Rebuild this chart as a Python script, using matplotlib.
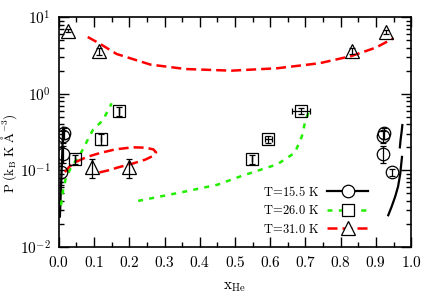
import numpy as np
import matplotlib
matplotlib.use("Agg")
import matplotlib.pyplot as plt
from matplotlib.ticker import MultipleLocator, LogLocator, NullFormatter, FixedLocator

plt.rcParams['mathtext.fontset'] = 'cm'
plt.rcParams['font.family'] = 'serif'
plt.rcParams['font.serif'] = ['DejaVu Serif']

# ---- simulation points (symbols) ----
x_155 = [0.006, 0.012, 0.013, 0.015, 0.92, 0.92, 0.922, 0.946]
p_155 = [0.095, 0.165, 0.28, 0.31, 0.165, 0.28, 0.31, 0.095]
e_155 = [0.03, 0.04, 0.05, 0.05, 0.04, 0.05, 0.05, 0.01]

x_260 = [0.045, 0.12, 0.17, 0.548, 0.594, 0.688]
p_260 = [0.14, 0.255, 0.6, 0.14, 0.255, 0.6]
e_260 = [0.02, 0.04, 0.08, 0.02, 0.03, 0.05]
xe_260 = [0.0, 0.0, 0.0, 0.0, 0.01, 0.025]

x_310 = [0.025, 0.094, 0.115, 0.2, 0.832, 0.93]
p_310 = [6.6, 0.11, 3.6, 0.11, 3.6, 6.4]
e_310 = [0.3, 0.03, 0.4, 0.03, 0.3, 0.3]

# ---- coexistence curves ----
lx_155a = [0.003, 0.005, 0.007, 0.009, 0.011, 0.012]
lp_155a = [0.025, 0.045, 0.08, 0.14, 0.25, 0.36]
lx_155b = [0.968, 0.970, 0.973, 0.975]
lp_155b = [0.2, 0.25, 0.32, 0.39]
lx_155c = [0.935, 0.945, 0.955, 0.963, 0.969, 0.974]
lp_155c = [0.026, 0.034, 0.046, 0.062, 0.09, 0.15]

lx_260a = [0.006, 0.012, 0.02, 0.035, 0.06, 0.097, 0.125, 0.15]
lp_260a = [0.035, 0.055, 0.08, 0.11, 0.16, 0.34, 0.45, 0.75]
lx_260b = [0.225, 0.35, 0.45, 0.52, 0.62, 0.67, 0.69, 0.70, 0.715]
lp_260b = [0.04, 0.052, 0.065, 0.085, 0.12, 0.17, 0.28, 0.45, 0.67]

lx_310a = [0.082, 0.116, 0.164, 0.26, 0.36, 0.45, 0.49, 0.62, 0.74, 0.83, 0.90, 0.95]
lp_310a = [5.5, 4.5, 3.3, 2.4, 2.1, 2.03, 2.0, 2.15, 2.5, 3.1, 4.0, 5.3]
lx_310b = [0.017, 0.03, 0.05, 0.08, 0.116, 0.16, 0.21, 0.245, 0.268, 0.276,
           0.268, 0.245, 0.21, 0.17, 0.14, 0.115]
lp_310b = [0.095, 0.112, 0.13, 0.15, 0.168, 0.188, 0.2, 0.198, 0.188, 0.172,
           0.155, 0.138, 0.123, 0.11, 0.1, 0.094]

fig = plt.figure(figsize=(4.36, 3.05), dpi=100)
ax = fig.add_axes([0.135, 0.19, 0.808, 0.754])

red = '#ff0000'
green = '#22ee00'
red_dash = (4, 2)
green_dash = (2, 2.5)

ax.plot(lx_155a, lp_155a, '-', color='black', lw=1.6)
ax.plot(lx_155b, lp_155b, '-', color='black', lw=1.6)
ax.plot(lx_155c, lp_155c, '-', color='black', lw=1.6)
ax.plot(lx_260a, lp_260a, color=green, lw=1.8, dashes=green_dash)
ax.plot(lx_260b, lp_260b, color=green, lw=1.8, dashes=green_dash)
ax.plot(lx_310a, lp_310a, color=red, lw=1.8, dashes=red_dash)
ax.plot(lx_310b, lp_310b, color=red, lw=1.8, dashes=red_dash)

ax.errorbar(x_155, p_155, yerr=e_155, fmt='o', mfc='none', mec='black', ms=9,
            mew=0.9, ecolor='black', elinewidth=0.9, capsize=2, capthick=0.9)
ax.errorbar(x_260, p_260, yerr=e_260, xerr=xe_260, fmt='s', mfc='none', mec='black', ms=9,
            mew=0.9, ecolor='black', elinewidth=0.9, capsize=2, capthick=0.9)
ax.errorbar(x_310, p_310, yerr=e_310, fmt='^', mfc='none', mec='black', ms=10,
            mew=0.9, ecolor='black', elinewidth=0.9, capsize=2, capthick=0.9)

# legend proxies
h1, = ax.plot([], [], '-', color='black', lw=1.6, marker='o', mfc='white', mec='black', ms=9, mew=0.9)
h2, = ax.plot([], [], color=green, lw=1.8, dashes=green_dash, marker='s', mfc='white', mec='black', ms=9, mew=0.9)
h3, = ax.plot([], [], color=red, lw=1.8, dashes=red_dash, marker='^', mfc='white', mec='black', ms=10, mew=0.9)
ax.legend([h1, h2, h3],
          [r'$\mathrm{T\!=\!15.5\ K}$', r'$\mathrm{T\!=\!26.0\ K}$', r'$\mathrm{T\!=\!31.0\ K}$'],
          loc='lower right', bbox_to_anchor=(0.91, 0.0), frameon=False, markerfirst=False,
          handlelength=3.3, fontsize=9, labelspacing=0.45, handletextpad=0.6)

ax.set_yscale('log')
ax.set_xlim(0, 1.0)
ax.set_ylim(1e-2, 1e1)

ax.xaxis.set_major_locator(FixedLocator(np.arange(0, 1.01, 0.1)))
ax.xaxis.set_minor_locator(MultipleLocator(0.05))
ax.set_xticklabels([r'$\mathrm{%.1f}$' % v for v in np.arange(0, 1.01, 0.1)])
ax.yaxis.set_minor_locator(LogLocator(base=10, subs=np.arange(2, 10), numticks=10))
ax.yaxis.set_minor_formatter(NullFormatter())
ax.set_yticks([1e-2, 1e-1, 1e0, 1e1])
ax.set_yticklabels([r'$10^{-2}$', r'$10^{-1}$', r'$10^{0}$', r'$10^{1}$'])

ax.tick_params(which='both', direction='in', top=True, right=True, labelsize=11, width=1.0)
ax.tick_params(which='major', length=7, pad=6)
ax.tick_params(which='minor', length=3.5)
for s in ax.spines.values():
    s.set_linewidth(1.2)

ax.set_xlabel(r'$\mathrm{x_{He}}$', fontsize=11)
ax.xaxis.set_label_coords(0.5, -0.145)
ax.set_ylabel(r'$\mathrm{P\ (k_B\ K\ \AA^{-3})}$', fontsize=9.5)
ax.yaxis.set_label_coords(-0.112, 0.41)

fig.savefig('out.png', dpi=100)
